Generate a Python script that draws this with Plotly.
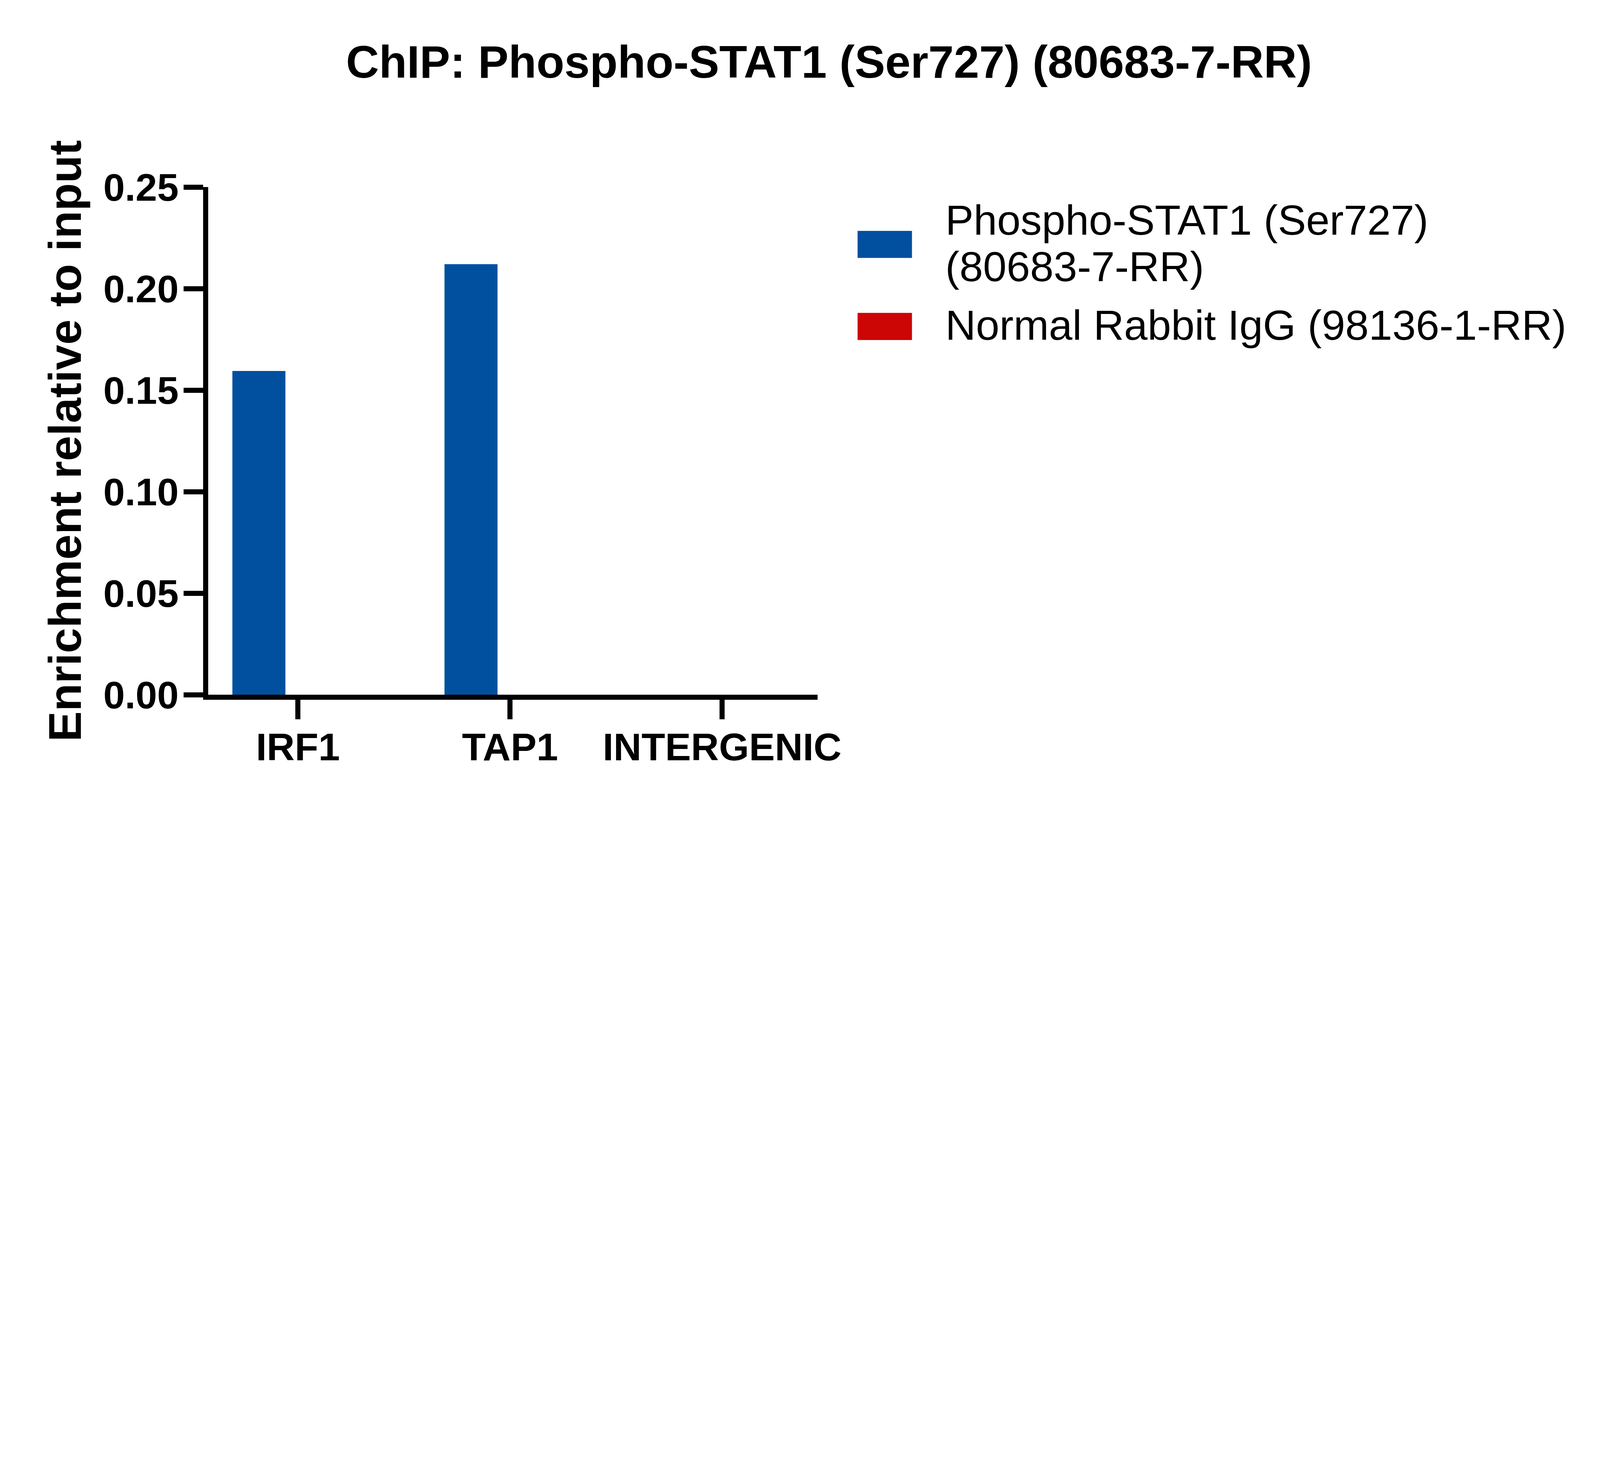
import plotly.graph_objects as go

# data
targets = ["IRF1", "TAP1", "INTERGENIC"]
series_names = ["Phospho-STAT1 (Ser727) (80683-7-RR)", "Normal Rabbit IgG (98136-1-RR)"]
stat1_values = [0.1594, 0.2120, 0.0]
igg_values = [0.0, 0.0, 0.0]
y_ticks = [0.00, 0.05, 0.10, 0.15, 0.20, 0.25]

colors = ["#00509F", "#CC0505"]
FONT = "Liberation Sans, Arial, sans-serif"

# reference is 7560x3767; the browser window is only 4096 px wide,
# so everything measured on the reference is scaled down by S
REF_W, REF_H = 7560, 3767
S = 4096 / REF_W
W, H = round(REF_W * S), round(REF_H * S)
L, R, T, B = 984, 3863, 884, 3284   # plot area edges, reference px


def sc(v):
    return v * S


def px_x(px):
    return (px - L) / (R - L)


def px_y(py):
    return (B - py) / (B - T)


fig = go.Figure()
fig.add_trace(go.Bar(x=targets, y=stat1_values, name=series_names[0],
                     marker=dict(color=colors[0], line_width=0),
                     width=0.25, offset=-0.309))
fig.add_trace(go.Bar(x=targets, y=igg_values, name=series_names[1],
                     marker=dict(color=colors[1], line_width=0),
                     width=0.25, offset=0.059))

axis_common = dict(showgrid=False, zeroline=False, showline=True, linecolor="black",
                   linewidth=sc(24), ticks="outside", ticklen=sc(92), tickwidth=sc(24),
                   tickcolor="black")

fig.update_xaxes(**axis_common, range=[-0.423, 2.450], ticklabelstandoff=-14,
                 tickfont=dict(family=FONT, size=sc(183), color="black", weight="bold"))
fig.update_yaxes(**axis_common, range=[0, 0.25], tickvals=y_ticks, tickformat=".2f",
                 ticklabelstandoff=-7,
                 tickfont=dict(family=FONT, size=sc(183), color="black", weight="bold"),
                 title=dict(text="Enrichment relative to input", standoff=sc(42),
                            font=dict(family=FONT, size=sc(215), color="black", weight="bold")))

# legend drawn by hand so the swatches can be large
shapes = []
annotations = []
swatch_rows = [(1091, 1219), (1479, 1607)]
for i, (y0, y1) in enumerate(swatch_rows):
    shapes.append(dict(type="rect", xref="paper", yref="paper",
                       x0=px_x(4052), x1=px_x(4309), y0=px_y(y1), y1=px_y(y0),
                       fillcolor=colors[i], line_width=0))

first, second = series_names[0].rsplit(" ", 1)
legend_lines = [(first, 1040), (second, 1260), (series_names[1], 1537)]
for text, yc in legend_lines:
    annotations.append(dict(text=text, xref="paper", yref="paper",
                            x=px_x(4463), y=px_y(yc), xanchor="left", yanchor="middle",
                            showarrow=False,
                            font=dict(family=FONT, size=sc(200), color="black")))

fig.update_layout(
    width=W, height=H,
    margin=dict(l=sc(L), r=sc(REF_W - R), t=sc(T), b=sc(REF_H - B), autoexpand=False),
    paper_bgcolor="white", plot_bgcolor="white",
    showlegend=False,
    title=dict(text="ChIP: Phospho-STAT1 (Ser727) (80683-7-RR)",
               xref="container", x=3917 / REF_W, xanchor="center",
               yref="container", y=1 - 291 / REF_H, yanchor="middle",
               font=dict(family=FONT, size=sc(216), color="black", weight="bold")),
    shapes=shapes,
    annotations=annotations,
)

# drop the page's default body margin so the figure sits at the top-left corner
fig.write_html("out.html", config={"displayModeBar": False},
               post_script="document.body.style.margin = '0';")
